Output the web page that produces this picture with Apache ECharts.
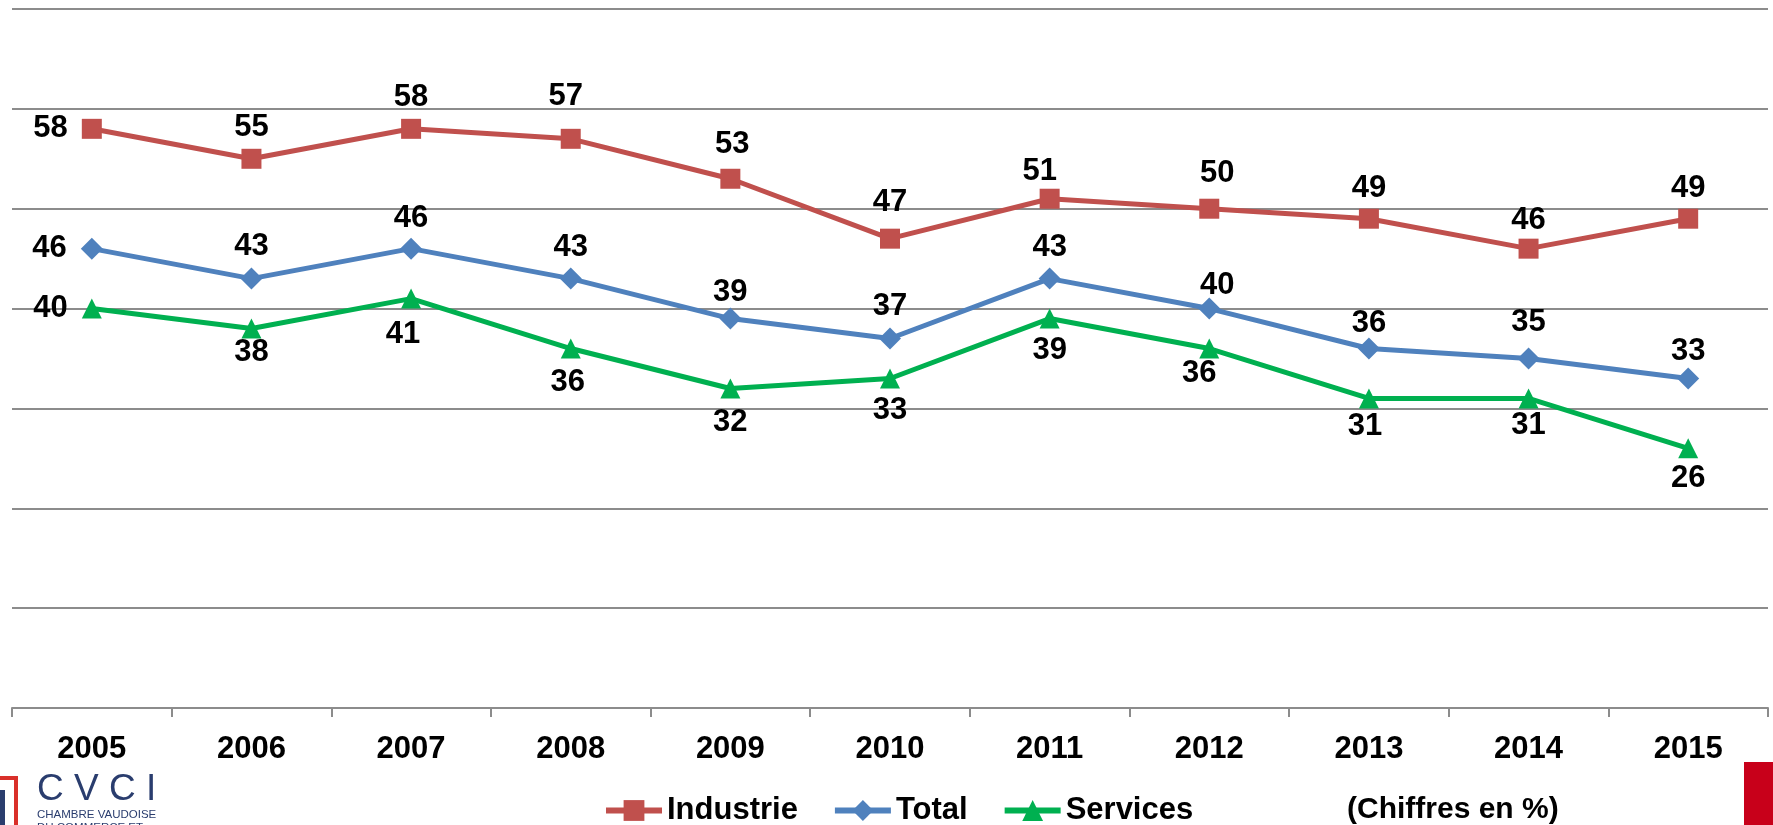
<!DOCTYPE html>
<html><head><meta charset="utf-8">
<script src="https://cdn.jsdelivr.net/npm/echarts@6/dist/echarts.min.js"></script>
<style>html,body{margin:0;padding:0;background:#fff}#c{width:1773px;height:825px}</style>
</head><body><div id="c"></div>
<script>
const years = ['2005','2006','2007','2008','2009','2010','2011','2012','2013','2014','2015'];
const industrie = [58,55,58,57,53,47,51,50,49,46,49];
const total = [46,43,46,43,39,37,43,40,36,35,33];
const services = [40,38,41,36,32,33,39,36,31,31,26];
const FONT = '"Liberation Sans", Arial, sans-serif';

// label nudges (pixels), mimicking the manual placement of the original labels
const nudgeIndustrie = [[-8,0],[0,0],[0,0],[-5,-11],[2,-3],[0,-5],[-10,4],[8,-4],[0,1],[0,3],[0,1]];
const nudgeTotal     = [[-8,0],[0,0],[0,2],[0,1],[0,6],[0,0],[0,1],[8,9],[0,7],[0,-4],[0,5]];
const nudgeServices  = [[-8,0],[0,-8],[-8,4],[-3,2],[0,2],[0,0],[0,0],[-10,-7],[-4,-3],[0,-4],[0,-1]];

function labelled(vals, nudges, posFirst, posRest) {
  return vals.map((v, i) => ({ value: v, label: { position: i === 0 ? posFirst : posRest, offset: nudges[i] } }));
}
const lbl = { show: true, fontFamily: FONT, fontWeight: 'bold', fontSize: 31, color: '#000', distance: 6 };

const chart = echarts.init(document.getElementById('c'));
chart.setOption({
  animation: false,
  grid: { left: 12, right: 5, top: 9, bottom: 117 },
  xAxis: {
    type: 'category', data: years, boundaryGap: true,
    axisLine: { lineStyle: { color: '#8c8c8c', width: 2 } },
    axisTick: { show: true, length: 9, lineStyle: { color: '#8c8c8c', width: 2 } },
    axisLabel: { fontFamily: FONT, fontWeight: 'bold', fontSize: 31, color: '#000', margin: 26 }
  },
  yAxis: {
    type: 'value', min: 0, max: 70, interval: 10,
    axisLabel: { show: false }, axisLine: { show: false }, axisTick: { show: false },
    splitLine: { lineStyle: { color: '#8c8c8c', width: 2 } }
  },
  legend: {
    left: 598, top: 790, itemGap: 34, itemWidth: 56, itemHeight: 26,
    lineStyle: { width: 6 },
    textStyle: { fontFamily: FONT, fontWeight: 'bold', fontSize: 31, color: '#000' },
    data: ['Industrie', 'Total', 'Services']
  },
  series: [
    { name: 'Industrie', type: 'line', symbol: 'rect', symbolSize: 20,
      lineStyle: { color: '#C0504D', width: 5 }, itemStyle: { color: '#C0504D' },
      label: lbl, data: labelled(industrie, nudgeIndustrie, 'left', 'top') },
    { name: 'Total', type: 'line', symbol: 'diamond', symbolSize: [22, 22],
      lineStyle: { color: '#4F81BD', width: 5 }, itemStyle: { color: '#4F81BD' },
      label: lbl, data: labelled(total, nudgeTotal, 'left', 'top') },
    { name: 'Services', type: 'line', symbol: 'triangle', symbolSize: 20,
      lineStyle: { color: '#00B050', width: 5 }, itemStyle: { color: '#00B050' },
      label: lbl, data: labelled(services, nudgeServices, 'left', 'bottom') }
  ],
  graphic: [
    { type: 'text', left: 1347, top: 795, style: { text: '(Chiffres en %)', fontFamily: FONT, fontWeight: 'bold', fontSize: 30, fill: '#000' } },
    { type: 'rect', shape: { x: 1744, y: 762, width: 40, height: 80 }, style: { fill: '#C8001A' } },
    { type: 'rect', shape: { x: -12, y: 778, width: 28, height: 70 }, style: { fill: 'none', stroke: '#D9302A', lineWidth: 4 } },
    { type: 'rect', shape: { x: 0, y: 790, width: 5, height: 40 }, style: { fill: '#2A3D6E' } },
    { type: 'text', left: 37, top: 771, style: { text: 'C V C I', fontFamily: FONT, fontSize: 37, fill: '#2A3D6E' } },
    { type: 'text', left: 37, top: 809, style: { text: 'CHAMBRE VAUDOISE', fontFamily: FONT, fontSize: 11.5, fill: '#2A3D6E' } },
    { type: 'text', left: 37, top: 822, style: { text: 'DU COMMERCE ET', fontFamily: FONT, fontSize: 11.5, fill: '#2A3D6E' } }
  ]
});
</script></body></html>
